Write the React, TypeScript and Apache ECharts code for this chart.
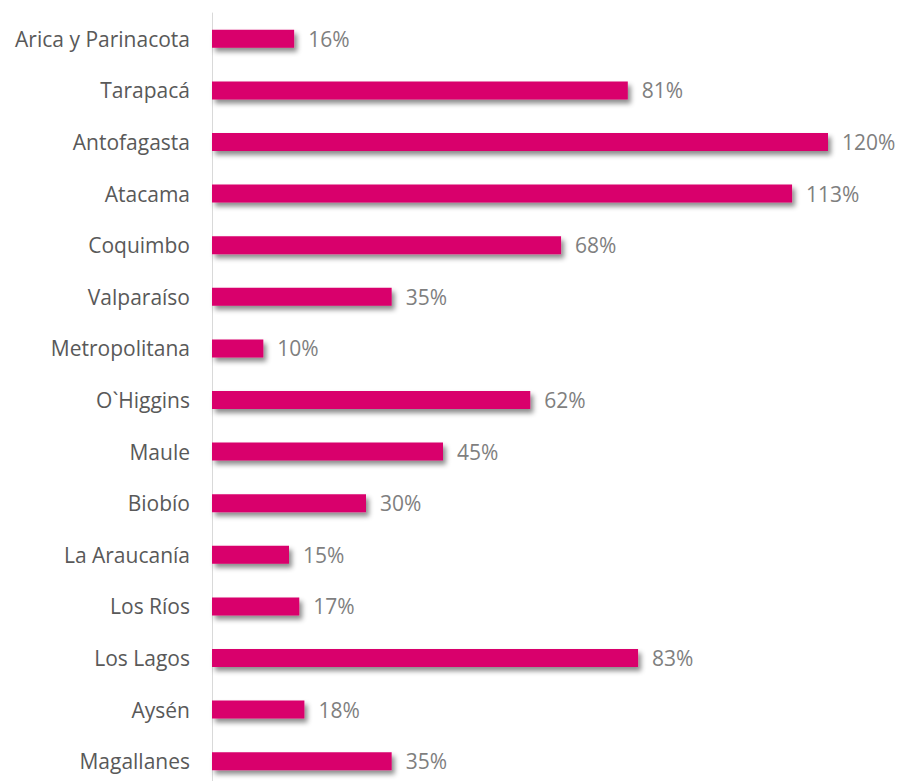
import React, { useEffect, useRef } from "react";
import * as echarts from "echarts";

const categories = [
  "Arica y Parinacota",
  "Tarapacá",
  "Antofagasta",
  "Atacama",
  "Coquimbo",
  "Valparaíso",
  "Metropolitana",
  "O`Higgins",
  "Maule",
  "Biobío",
  "La Araucanía",
  "Los Ríos",
  "Los Lagos",
  "Aysén",
  "Magallanes",
];

const values = [16, 81, 120, 113, 68, 35, 10, 62, 45, 30, 15, 17, 83, 18, 35];

export default function App() {
  const ref = useRef<HTMLDivElement>(null);
  useEffect(() => {
    if (!ref.current) return;
    const chart = echarts.init(ref.current, null, { renderer: "svg" });
    chart.setOption({
      animation: false,
      backgroundColor: "#ffffff",
      grid: { left: 212, right: 73, top: 13, bottom: 0, containLabel: false },
      xAxis: {
        type: "value",
        min: 0,
        max: 120,
        show: false,
      },
      yAxis: {
        type: "category",
        data: categories,
        inverse: true,
        axisLine: { show: true, lineStyle: { color: "#d9d9d9", width: 1 } },
        axisTick: { show: false },
        axisLabel: {
          color: "#595959",
          fontFamily: "Open Sans",
          fontSize: 21,
          margin: 22,
        },
      },
      series: [
        {
          type: "bar",
          data: values,
          barWidth: 18,
          itemStyle: {
            color: "#D9006C",
            shadowColor: "rgba(0,0,0,0.45)",
            shadowBlur: 5,
            shadowOffsetX: 3,
            shadowOffsetY: 4,
          },
          label: {
            show: true,
            position: "right",
            distance: 14,
            formatter: (p: any) => `${p.value}%`,
            color: "#7f7f7f",
            fontFamily: "Open Sans",
            fontSize: 21,
          },
        },
      ],
    });
    return () => chart.dispose();
  }, []);
  return (
    <div
      style={{
        position: "fixed",
        left: 0,
        top: 0,
        width: 901,
        height: 781,
        overflow: "hidden",
        background: "#fff",
      }}
    >
      <div ref={ref} style={{ width: 901, height: 787 }} />
    </div>
  );
}
